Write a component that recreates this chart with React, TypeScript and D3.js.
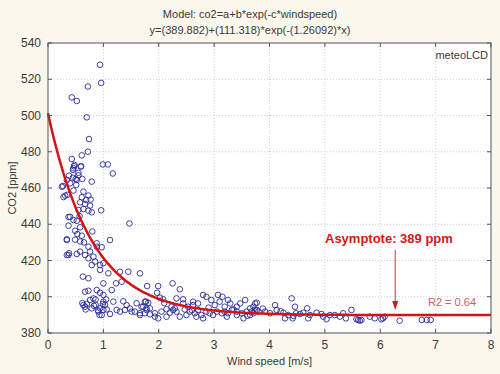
import React from "react";
import * as d3 from "d3";

const xTicks = [0, 1, 2, 3, 4, 5, 6, 7, 8];
const yTicks = [380, 400, 420, 440, 460, 480, 500, 520, 540];
const titleLines = ["Model: co2=a+b*exp(-c*windspeed)", "y=(389.882)+(111.318)*exp(-(1.26092)*x)"];
const modelA = 389.882;
const modelB = 111.318;
const modelC = 1.26092;

const windX = [
  0.94, 0.96, 0.72, 0.43, 0.52, 0.70, 0.74, 0.72, 0.61, 0.43, 0.99, 1.08, 1.17, 0.47, 0.60, 0.45, 0.55, 0.62, 0.50,
  0.48, 0.46, 0.59, 0.55, 0.38, 0.45, 0.52, 0.34, 0.27, 0.40, 0.51, 0.79, 0.31, 0.46, 0.35, 0.64, 0.73, 0.61, 0.69,
  0.77, 0.58, 0.67, 0.76, 0.64, 0.73, 0.55, 0.79, 0.96, 0.40, 0.46, 0.52, 1.47, 0.37, 0.58, 0.49, 0.53, 0.61, 0.34,
  0.49, 0.58, 0.65, 1.12, 0.88, 0.97, 0.73,
  0.34, 0.38, 0.52, 0.58, 0.67, 0.76, 0.73, 0.82, 0.88, 0.85, 0.79, 0.94, 1.00, 0.94, 1.09, 1.30, 1.45, 1.66, 1.33,
  1.23, 1.00, 0.63, 0.73, 0.67, 0.73, 0.88, 0.94, 1.00, 0.82, 0.76, 1.00, 1.18, 0.64, 0.67, 0.79, 0.94, 1.00, 0.91,
  0.97, 1.06, 1.24, 1.30, 1.39, 1.42, 1.51, 1.60, 1.69, 1.66, 1.77, 1.78, 1.57, 1.15,
  1.79, 1.99, 2.25, 1.97, 2.38, 2.08, 2.32, 2.44, 1.75, 1.81, 1.72, 1.78, 1.84, 1.66, 1.75, 1.84, 1.93, 2.05, 2.14,
  2.20, 2.26, 2.32, 2.23, 2.29, 2.44, 2.53, 2.62, 2.56, 2.65, 2.71, 2.77, 2.80, 2.86, 2.92, 2.98, 3.05, 3.14, 3.19,
  3.25, 3.32, 3.41, 3.50, 3.59, 3.71, 3.80, 2.62, 2.71, 2.80, 2.86, 2.95, 3.07, 3.15, 3.10, 3.01, 3.25, 3.29, 3.19,
  3.41, 3.47, 3.56, 3.65, 3.74, 3.77,
  3.71, 3.77, 3.74, 3.68, 3.92, 4.01, 4.10, 4.13, 4.25, 4.28, 4.34, 4.40, 4.42, 4.46, 4.48, 4.43, 4.61, 4.68, 4.70,
  4.73, 4.85, 4.94, 4.97, 5.03, 5.09, 5.18, 5.27, 5.33, 5.38, 5.48, 5.57, 5.63, 5.81, 5.90, 6.02, 6.08, 6.35,
  6.75, 6.84, 6.91, 6.05, 5.60, 5.66,
  0.25, 0.28, 0.37, 0.34, 0.37,
  1.93, 1.99, 2.14, 2.38, 2.50, 2.68, 3.23, 3.41, 3.53, 3.65,
  0.70, 0.83, 0.90, 1.03, 1.12, 0.57, 0.80, 0.86, 2.10, 2.47, 2.90, 3.35, 3.60, 3.88, 4.20, 4.55, 2.02, 2.60,
  0.62, 0.68, 0.86, 0.93, 0.99, 1.05, 1.36, 1.48,
];

const co2Y = [
  528, 518, 516, 510, 508, 499, 487, 480, 478, 476, 473, 473, 468, 472, 472, 470, 467, 465, 465,
  472.7, 470.9, 471.8, 468.4, 466.8, 465.7, 464.4, 464.4, 461.1, 462.6, 461.7, 463.5, 455.8, 458.6, 456.2, 458.0, 455.8, 454.9, 453.4,
  453.6, 452.1, 451.2, 450.3, 448.4, 447.5, 447.9, 446.6, 447.7, 444.1, 442.3, 441.9, 440.4, 439.2, 438.3, 436.4, 434.6, 433.7, 431.3,
  431.5, 430.5, 430.0, 431.3, 429.5, 427.3, 427.6,
  423.0, 424.0, 423.6, 424.9, 423.0, 424.9, 421.2, 422.1, 427.6, 419.4, 417.5, 417.5, 418.5, 414.8, 412.9, 413.8, 413.8, 412.9, 408.3,
  407.4, 407.4, 411.1, 410.2, 402.8, 403.3, 403.7, 402.2, 401.0, 399.1, 398.2, 397.3, 397.3, 395.4, 394.5, 393.6, 393.6, 392.7, 391.8,
  389.9, 393.0, 392.7, 391.8, 392.7, 395.4, 391.8, 396.4, 394.5, 390.9, 397.3, 392.7, 391.8, 403.7,
  405.9, 405.9, 407.4, 402.2, 404.1, 398.6, 399.1, 398.6, 397.3, 396.7, 394.5, 393.6, 393.6, 389.9, 390.9, 390.3, 390.9, 391.8, 393.1,
  391.2, 392.7, 391.8, 394.5, 393.6, 396.3, 394.5, 395.4, 391.8, 390.9, 392.7, 389.9, 388.1, 391.8, 390.9, 389.9, 391.8, 390.9, 391.8,
  390.9, 392.7, 391.8, 390.9, 391.8, 390.9, 391.8, 397.3, 396.3, 401.0, 400.0, 398.2, 401.0, 400.0, 397.3, 395.4, 398.2, 396.3, 394.5,
  394.5, 396.3, 398.2, 393.6, 396.3, 392.7,
  394.5, 396.7, 392.7, 391.8, 391.8, 390.9, 395.4, 392.7, 391.2, 388.1, 389.9, 399.1, 388.1, 394.5, 390.9, 389.4, 391.2, 393.6, 388.1,
  389.9, 391.2, 390.5, 389.0, 387.6, 389.9, 389.9, 389.0, 390.9, 388.1, 392.7, 387.6, 386.8, 389.0, 388.1, 387.6, 389.0, 386.8,
  387.2, 387.2, 387.2, 388.1, 387.2, 387.2,
  460.7, 455.0, 444.0, 431.7, 423.0,
  389.0, 388.1, 389.0, 389.0, 389.9, 389.0, 389.0, 389.9, 388.1, 389.9,
  396.0, 395.0, 392.5, 395.5, 390.5, 444.5, 436.0, 398.5, 396.5, 393.0, 394.0, 393.0, 389.5, 393.5, 392.0, 390.5, 399.5, 392.5,
  396.5, 393.0, 395.5, 390.0, 396.0, 398.5, 397.5, 393.5,
];

const W = 500;
const H = 374;
const left = 48;
const right = 491;
const top = 43;
const bottom = 333;
const font = "Arial, 'Liberation Sans', sans-serif";

export default function App() {
  const x = d3.scaleLinear().domain([0, 8]).range([left, right]);
  const y = d3.scaleLinear().domain([380, 540]).range([bottom, top]);
  const curvePts = d3.range(0, 8.0001, 0.02).map((v) => [v, modelA + modelB * Math.exp(-modelC * v)] as [number, number]);
  const line = d3.line<[number, number]>().x((d) => x(d[0])).y((d) => y(d[1]));
  const tickLen = 4;
  const arrowX = x(6.27);
  return (
    <svg width={W} height={H} style={{ position: "absolute", left: 0, top: 0, background: "#fcf7ec" }} fontFamily={font}>
      <rect x={0} y={0} width={W} height={H} fill="#fcf7ec" />
      <rect x={left} y={top} width={right - left} height={bottom - top} fill="#ffffff" />
      {xTicks.slice(1, -1).map((t) => (
        <line key={"gx" + t} x1={x(t)} x2={x(t)} y1={top} y2={bottom} stroke="#d0d0d0" strokeDasharray="1,2" />
      ))}
      {yTicks.slice(1, -1).map((t) => (
        <line key={"gy" + t} x1={left} x2={right} y1={y(t)} y2={y(t)} stroke="#d0d0d0" strokeDasharray="1,2" />
      ))}
      {xTicks.map((t) => (
        <g key={"tx" + t}>
          <line x1={x(t)} x2={x(t)} y1={bottom} y2={bottom - tickLen} stroke="#555" />
          <line x1={x(t)} x2={x(t)} y1={top} y2={top + tickLen} stroke="#555" />
          <text x={x(t)} y={bottom + 16} textAnchor="middle" fontSize={12} fill="#3a3a3a">{t}</text>
        </g>
      ))}
      {yTicks.map((t) => (
        <g key={"ty" + t}>
          <line x1={left} x2={left + tickLen} y1={y(t)} y2={y(t)} stroke="#555" />
          <line x1={right} x2={right - tickLen} y1={y(t)} y2={y(t)} stroke="#555" />
          <text x={left - 7} y={y(t) + 4} textAnchor="end" fontSize={12} fill="#3a3a3a">{t}</text>
        </g>
      ))}
      {windX.map((wx, i) => (
        <circle key={"p" + i} cx={x(wx)} cy={y(co2Y[i])} r={2.8} fill="none" stroke="#2a2a9a" strokeWidth={0.9} />
      ))}
      <path d={line(curvePts) || ""} fill="none" stroke="#d41414" strokeWidth={2.5} />
      <rect x={left} y={top} width={right - left} height={bottom - top} fill="none" stroke="#555" />
      <text x={right - 3} y={59} textAnchor="end" fontSize={11} fill="#3a3a3a">meteoLCD</text>
      {titleLines.map((t, i) => (
        <text key={"tl" + i} x={250} y={18 + i * 16} textAnchor="middle" fontSize={11} fill="#3a3a3a">{t}</text>
      ))}
      <text x={(left + right) / 2} y={365} textAnchor="middle" fontSize={11} fill="#3a3a3a">Wind speed [m/s]</text>
      <text transform={`translate(16,${(top + bottom) / 2}) rotate(-90)`} textAnchor="middle" fontSize={11} fill="#3a3a3a">CO2 [ppm]</text>
      <text x={325} y={243} fontSize={13} fontWeight="bold" fill="#d41818">Asymptote: 389 ppm</text>
      <line x1={arrowX} x2={arrowX} y1={250} y2={303} stroke="#b04040" strokeWidth={1} />
      <path d={`M${arrowX - 3},${301} L${arrowX + 3},${301} L${arrowX},${310} Z`} fill="#c02020" />
      <text x={428} y={306} fontSize={11} fill="#c86060">R2 = 0.64</text>
    </svg>
  );
}
